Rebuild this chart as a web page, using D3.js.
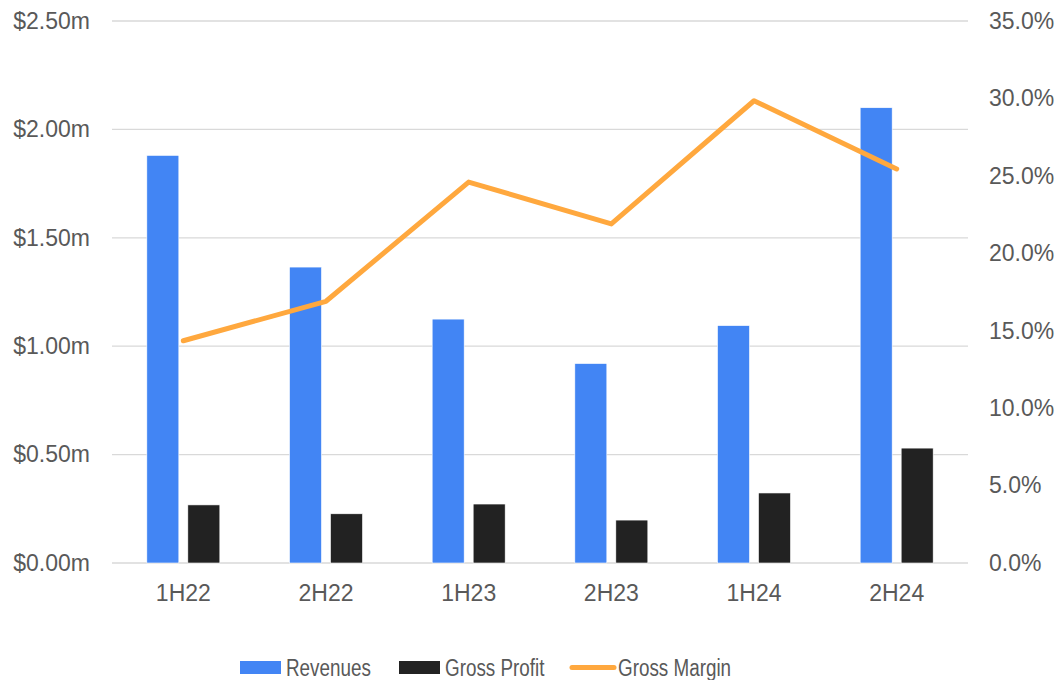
<!DOCTYPE html>
<html><head><meta charset="utf-8">
<script src="https://cdn.jsdelivr.net/npm/d3@7"></script>
<style>body{margin:0;background:#fff}svg{display:block}text{font-family:"Liberation Sans",Arial,sans-serif;fill:#595959}</style>
</head><body><svg id="c" width="1061" height="680"></svg>
<script>
const categories = ["1H22","2H22","1H23","2H23","1H24","2H24"];
const revenues = [1.88, 1.365, 1.125, 0.92, 1.095, 2.10];
const grossProfit = [0.268, 0.227, 0.272, 0.198, 0.323, 0.53];
const grossMargin = [14.35, 16.9, 24.6, 21.9, 29.85, 25.45];
const leftTicks = [0, 0.5, 1.0, 1.5, 2.0, 2.5];
const rightTicks = [0, 5, 10, 15, 20, 25, 30, 35];

const FONT = '"Liberation Sans",Arial,sans-serif';
const svg = d3.select("#c");
const L = 112, R = 968, T = 21, B = 563;
const x = d3.scaleBand().domain(categories).range([L, R]);
const yL = d3.scaleLinear().domain([0, 2.5]).range([B, T]);
const yR = d3.scaleLinear().domain([0, 35]).range([B, T]);

// gridlines
svg.append("g").selectAll("line").data(leftTicks).join("line")
  .attr("x1", L).attr("x2", R).attr("y1", d => yL(d)).attr("y2", d => yL(d))
  .attr("stroke", "#d9d9d9").attr("stroke-width", 1.3);

// left axis
const axL = d3.axisLeft(yL).tickValues(leftTicks).tickSize(0).tickPadding(0)
  .tickFormat(d => "$" + d.toFixed(2) + "m");
const gL = svg.append("g").attr("transform", "translate(90,0)").call(axL);
gL.select(".domain").remove();
gL.selectAll("text").attr("font-size", 23).style("font-family", FONT).attr("fill", "#595959");

// right axis
const axR = d3.axisRight(yR).tickValues(rightTicks).tickSize(0).tickPadding(0)
  .tickFormat(d => d.toFixed(1) + "%");
const gR = svg.append("g").attr("transform", "translate(989,0)").call(axR);
gR.select(".domain").remove();
gR.selectAll("text").attr("font-size", 23).style("font-family", FONT).attr("fill", "#595959");

// bottom axis
const axB = d3.axisBottom(x).tickSize(0).tickPadding(0);
const gB = svg.append("g").attr("transform", `translate(0,${B + 22})`).call(axB);
gB.select(".domain").remove();
gB.selectAll("text").attr("font-size", 23).attr("dy", "0.71em").style("font-family", FONT).attr("fill", "#595959");

// bars
const bw = 32, gap = 9;
svg.append("g").selectAll("rect").data(revenues).join("rect")
  .attr("x", (d, i) => x(categories[i]) + x.bandwidth() / 2 - gap / 2 - bw)
  .attr("width", bw).attr("y", d => yL(d)).attr("height", d => B - yL(d))
  .attr("fill", "#4285f4").attr("stroke", "#fff").attr("stroke-width", 0.6);
svg.append("g").selectAll("rect").data(grossProfit).join("rect")
  .attr("x", (d, i) => x(categories[i]) + x.bandwidth() / 2 + gap / 2)
  .attr("width", bw).attr("y", d => yL(d)).attr("height", d => B - yL(d))
  .attr("fill", "#222222").attr("stroke", "#fff").attr("stroke-width", 0.6);

// line
const line = d3.line().x((d, i) => x(categories[i]) + x.bandwidth() / 2).y(d => yR(d));
svg.append("path").datum(grossMargin).attr("d", line)
  .attr("fill", "none").attr("stroke", "#ffa83e").attr("stroke-width", 5)
  .attr("stroke-linecap", "round").attr("stroke-linejoin", "round");

// legend
const lg = svg.append("g");
const ltext = (tx, s) => lg.append("text").attr("transform", `translate(${tx},675.5) scale(0.82,1)`)
  .attr("font-size", 23).text(s);
lg.append("rect").attr("x", 240).attr("y", 661).attr("width", 41).attr("height", 13).attr("fill", "#4285f4");
ltext(286, "Revenues");
lg.append("rect").attr("x", 399).attr("y", 661).attr("width", 41).attr("height", 13).attr("fill", "#222222");
ltext(445, "Gross Profit");
lg.append("line").attr("x1", 572).attr("x2", 614).attr("y1", 667.5).attr("y2", 667.5)
  .attr("stroke", "#ffa83e").attr("stroke-width", 5).attr("stroke-linecap", "round");
ltext(618, "Gross Margin");
</script></body></html>
